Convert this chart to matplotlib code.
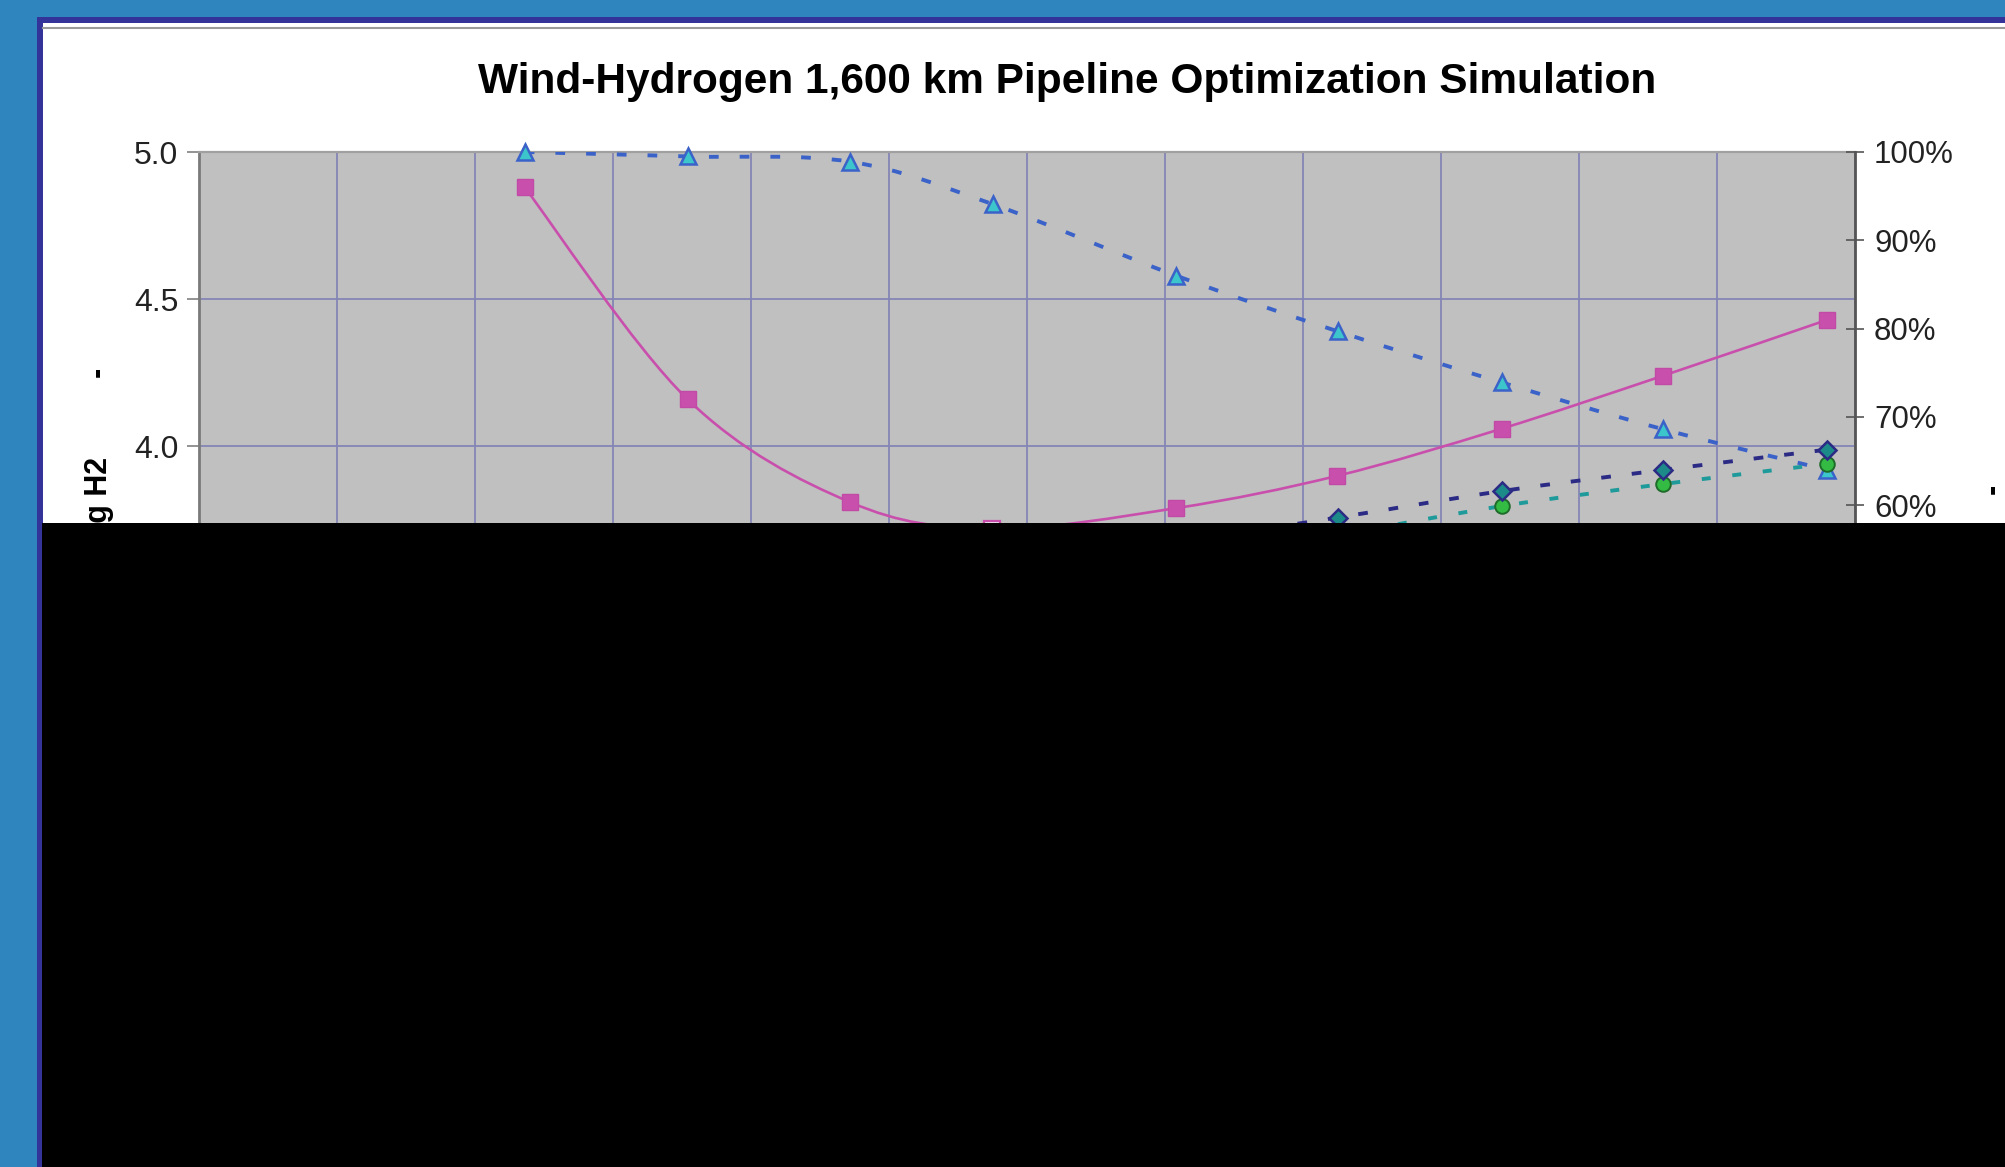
import numpy as np
import matplotlib
matplotlib.use("Agg")
import matplotlib.pyplot as plt
from matplotlib.path import Path
from matplotlib.patches import PathPatch, Rectangle
from matplotlib.ticker import MultipleLocator, FormatStrFormatter, PercentFormatter
import matplotlib.lines as mlines

plt.rcParams['font.family'] = ['Liberation Sans', 'DejaVu Sans']

W, H = 2006, 1167

title = 'Wind-Hydrogen 1,600 km Pipeline Optimization Simulation'
cost_label = 'Cost, $/kg H2'

# x position of each simulation run (in grid units, 12 divisions)
run_x = [2.36, 3.54, 4.72, 5.75, 7.08, 8.25, 9.44, 10.61, 11.80]
# delivered hydrogen cost, $/kg (left axis)
h2_cost = [4.88, 4.16, 3.81, 3.72, 3.79, 3.90, 4.06, 4.24, 4.43]
# percentage series (right axis)
tri_pct = [100.0, 99.5, 98.9, 94.1, 86.0, 79.7, 73.9, 68.6, 64.0]
dia_pct = [np.nan, np.nan, np.nan, np.nan, 55.8, 58.6, 61.6, 64.0, 66.3]
circ_pct = [np.nan, np.nan, np.nan, np.nan, np.nan, 56.6, 59.9, 62.4, 64.7]

left_ticks = [2.0, 2.5, 3.0, 3.5, 4.0, 4.5, 5.0]
right_ticks = [0, 10, 20, 30, 40, 50, 60, 70, 80, 90, 100]


def fx(px):
    return px / W


def fy(py):
    return 1 - py / H


def smooth_path(xs, ys):
    # bezier through the points, same kind of smoothing as a spreadsheet "smoothed line"
    xs = np.asarray(xs, float)
    ys = np.asarray(ys, float)
    ok = ~np.isnan(ys)
    pts = np.column_stack([xs[ok], ys[ok]])
    n = len(pts)
    verts = [pts[0]]
    codes = [Path.MOVETO]
    for i in range(n - 1):
        p0 = pts[max(i - 1, 0)]
        p1 = pts[i]
        p2 = pts[i + 1]
        p3 = pts[min(i + 2, n - 1)]
        verts += [p1 + (p2 - p0) / 6.0, p2 - (p3 - p1) / 6.0, p2]
        codes += [Path.CURVE4] * 3
    return Path(verts, codes)


fig = plt.figure(figsize=(W / 100, H / 100), dpi=100)
fig.patch.set_facecolor('#2f85bd')

# frame: navy edge, white panel, thin grey rule under the top edge
fig.add_artist(Rectangle((fx(37), 0), 1 - fx(37), fy(17), transform=fig.transFigure,
                         facecolor='#333399', edgecolor='none', zorder=-10))
fig.add_artist(Rectangle((fx(43), 0), 1 - fx(43), fy(23), transform=fig.transFigure,
                         facecolor='white', edgecolor='none', zorder=-9))
fig.add_artist(mlines.Line2D([fx(43), 1], [fy(27.5), fy(27.5)], transform=fig.transFigure,
                             color='#9a9a9a', lw=1.5, zorder=-8))

ax = fig.add_axes([fx(199), fy(1035), fx(1855) - fx(199), fy(152) - fy(1035)])
ax.set_facecolor('#c0c0c0')
ax.set_xlim(0, 12)
ax.set_ylim(2.0, 5.0)
ax.xaxis.set_major_locator(MultipleLocator(1))
ax.set_yticks(left_ticks)
ax.yaxis.set_major_formatter(FormatStrFormatter('%.1f'))
ax.grid(True, color='#8585b5', lw=1.3)
ax.set_axisbelow(True)
ax.tick_params(axis='x', length=0, labelbottom=False)
ax.tick_params(axis='y', direction='out', length=8.5, width=1.2, color='#808080',
               pad=6.5, labelsize=23, labelcolor='#222222')
for side in ['right', 'bottom']:
    ax.spines[side].set_visible(False)
ax.spines['left'].set_color('#7a7a7a')
ax.spines['left'].set_linewidth(2.0)
ax.spines['top'].set_color('#a0a0a0')
ax.spines['top'].set_linewidth(1.6)

# hydrogen cost curve
ax.add_patch(PathPatch(smooth_path(run_x, h2_cost), facecolor='none',
                       edgecolor='#c94fad', lw=1.9, zorder=3))
solid = [i for i in range(len(run_x)) if i != 3]
ax.plot([run_x[i] for i in solid], [h2_cost[i] for i in solid], ls='none', marker='s',
        ms=11.5, mfc='#c94fad', mec='#c04aa6', mew=1, zorder=4)
ax.plot([run_x[3]], [h2_cost[3]], ls='none', marker='s', ms=11.5,
        mfc='#f2e6f0', mec='#c94fad', mew=1.6, zorder=4)

# percentage axis
ax2 = ax.twinx()
ax2.set_xlim(0, 12)
ax2.set_ylim(0, 100)
ax2.set_yticks(right_ticks)
ax2.yaxis.set_major_formatter(PercentFormatter(xmax=100, decimals=0))
ax2.tick_params(axis='y', direction='inout', length=13.5, width=1.2, color='#555555',
                pad=7, labelsize=22.5, labelcolor='#222222')
for side in ['left', 'top', 'bottom']:
    ax2.spines[side].set_visible(False)
ax2.spines['right'].set_color('#555555')
ax2.spines['right'].set_linewidth(2.0)

ax2.add_patch(PathPatch(smooth_path(run_x, tri_pct), facecolor='none', edgecolor='#3a62c8',
                        lw=2.8, linestyle=(0, (2.5, 5.4)), zorder=2))
ax2.plot(run_x, tri_pct, ls='none', marker='^', ms=11.5, mfc='#3cc6cc', mec='#3a62c8',
         mew=1.8, zorder=3, clip_on=False)

ax2.add_patch(PathPatch(smooth_path(run_x, dia_pct), facecolor='none', edgecolor='#2b2b86',
                        lw=2.8, linestyle=(0, (2.5, 5.4)), zorder=2.2))
ax2.add_patch(PathPatch(smooth_path(run_x, circ_pct), facecolor='none', edgecolor='#1e9a9a',
                        lw=2.8, linestyle=(0, (2.3, 5.6)), zorder=2.1))
ax2.plot(run_x, circ_pct, ls='none', marker='o', ms=10.5, mfc='#33bb44', mec='#1e6b2a',
         mew=1.4, zorder=3.4)
ax2.plot(run_x, dia_pct, ls='none', marker='D', ms=9.5, mfc='#1d8a8a', mec='#2b2b86',
         mew=1.8, zorder=3.5)

# titles and axis captions
fig.text(fx(1067), fy(93), title, ha='center', va='baseline', fontsize=30.5,
         fontweight='bold', color='black')
fig.text(fx(107), fy(457), cost_label, rotation=90, rotation_mode='anchor', ha='right',
         va='baseline', fontsize=22, fontweight='bold', color='black')
fig.text(fx(98), fy(372), '-', rotation=90, ha='center', va='center', fontsize=22,
         fontweight='bold', color='black')
fig.text(fx(1993), fy(489), '-', rotation=90, ha='center', va='center', fontsize=22,
         fontweight='bold', color='black')

# blank lower band
fig.add_artist(Rectangle((fx(42), 0), 1 - fx(42), fy(523), transform=fig.transFigure,
                         facecolor='black', edgecolor='none', zorder=20))

fig.savefig('out.png', dpi=100, facecolor=fig.get_facecolor())
